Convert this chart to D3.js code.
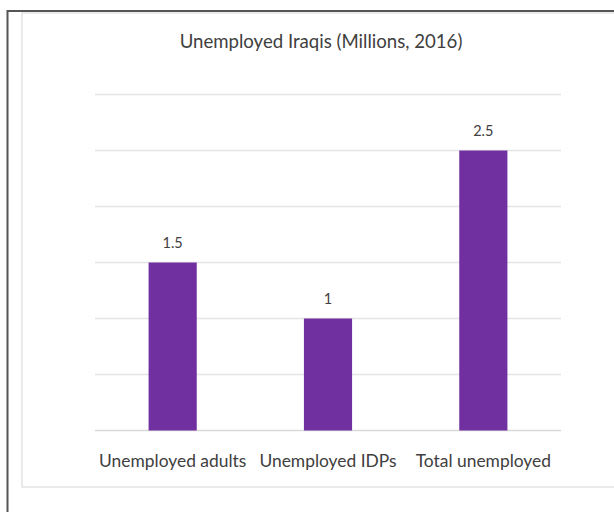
<!DOCTYPE html>
<html><head><meta charset="utf-8">
<script src="https://cdn.jsdelivr.net/npm/d3@7"></script>
<style>html,body{margin:0;padding:0;background:#fff;}svg{display:block;}</style>
</head><body>
<script>
const categories = ["Unemployed adults", "Unemployed IDPs", "Total unemployed"];
const values = [1.5, 1, 2.5];
const valueLabels = ["1.5", "1", "2.5"];
const gridTicks = [0, 0.5, 1, 1.5, 2, 2.5, 3];
const title = "Unemployed Iraqis (Millions, 2016)";

const W = 614, H = 512;
const svg = d3.select("body").append("svg").attr("width", W).attr("height", H);
const font = "Lato, 'Open Sans', sans-serif";

// outer frame lines
svg.append("line").attr("x1", 7.5).attr("x2", 7.5).attr("y1", 10).attr("y2", H)
  .attr("stroke", "#555").attr("stroke-width", 2);
svg.append("line").attr("x1", 7).attr("x2", W).attr("y1", 11).attr("y2", 11)
  .attr("stroke", "#555").attr("stroke-width", 2);
// inner chart box
svg.append("rect").attr("x", 22).attr("y", 13).attr("width", W).attr("height", 474)
  .attr("fill", "none").attr("stroke", "#e3e3e3").attr("stroke-width", 1.5);

const x = d3.scaleBand().domain(categories).range([95, 561]).paddingInner(0.69).paddingOuter(0.345);
const y = d3.scaleLinear().domain([0, 3]).range([430.5, 94.5]);

const g = svg.append("g");
g.selectAll("line.grid").data(gridTicks).join("line").attr("class", "grid")
  .attr("x1", 95).attr("x2", 561)
  .attr("y1", d => y(d)).attr("y2", d => y(d))
  .attr("stroke", d => d === 0 ? "#d9d9d9" : "#e4e4e4").attr("stroke-width", 1.3);

g.selectAll("rect.bar").data(values).join("rect").attr("class", "bar")
  .attr("x", (d, i) => x(categories[i]))
  .attr("width", x.bandwidth())
  .attr("y", d => y(d))
  .attr("height", d => y(0) - y(d))
  .attr("fill", "#7030A0");

g.selectAll("text.val").data(values).join("text").attr("class", "val")
  .attr("x", (d, i) => x(categories[i]) + x.bandwidth() / 2)
  .attr("y", d => y(d) - 15)
  .attr("text-anchor", "middle")
  .attr("font-family", font).attr("font-size", 14.5).attr("fill", "#404040")
  .text((d, i) => valueLabels[i]);

const xAxis = d3.axisBottom(x).tickSize(0).tickPadding(0);
const ax = svg.append("g").attr("transform", "translate(0,467)").call(xAxis);
ax.select(".domain").remove();
ax.selectAll("text").attr("font-family", font).attr("font-size", 17.4).attr("fill", "#404040")
  .attr("dy", null).attr("y", 0);

svg.append("text").attr("x", 321).attr("y", 48).attr("text-anchor", "middle")
  .attr("font-family", font).attr("font-size", 18.6).attr("fill", "#404040").text(title);
</script>
</body></html>
